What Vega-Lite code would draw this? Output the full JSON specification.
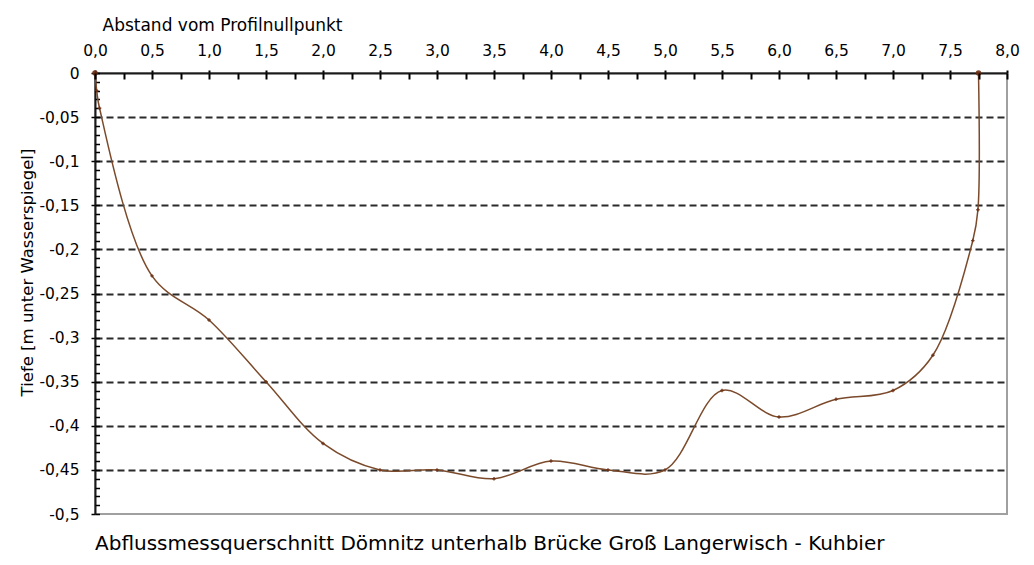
{
  "$schema": "https://vega.github.io/schema/vega-lite/v6.json",
  "width": 912,
  "height": 441,
  "autosize": {"type": "none"},
  "padding": {"left": 95, "top": 73, "right": 27, "bottom": 51},
  "background": "#ffffff",
  "config": {
    "locale": {"number": {"decimal": ",", "thousands": ".", "grouping": [3], "currency": ["", " €"], "minus": "-"}},
    "view": {"stroke": "#a0a0a0", "strokeWidth": 2},
    "font": "DejaVu Sans",
    "axis": {"labelFont": "DejaVu Sans", "titleFont": "DejaVu Sans", "labelColor": "#000000", "titleColor": "#000000", "titleFontWeight": "normal"}
  },
  "title": {
    "text": "Abflussmessquerschnitt Dömnitz unterhalb Brücke Groß Langerwisch - Kuhbier",
    "orient": "bottom",
    "anchor": "start",
    "frame": "group",
    "offset": 11,
    "font": "DejaVu Sans",
    "fontSize": 20,
    "fontWeight": "normal",
    "color": "#000000",
    "baseline": "top"
  },
  "data": {
    "values": [
      {"abstand": 0.0, "tiefe": 0.0},
      {"abstand": 0.015, "tiefe": -0.02},
      {"abstand": 0.04, "tiefe": -0.04},
      {"abstand": 0.5, "tiefe": -0.23},
      {"abstand": 1.0, "tiefe": -0.28},
      {"abstand": 1.5, "tiefe": -0.35},
      {"abstand": 2.0, "tiefe": -0.42},
      {"abstand": 2.5, "tiefe": -0.45},
      {"abstand": 3.0, "tiefe": -0.45},
      {"abstand": 3.5, "tiefe": -0.46},
      {"abstand": 4.0, "tiefe": -0.44},
      {"abstand": 4.5, "tiefe": -0.45},
      {"abstand": 5.0, "tiefe": -0.45},
      {"abstand": 5.5, "tiefe": -0.36},
      {"abstand": 6.0, "tiefe": -0.39},
      {"abstand": 6.5, "tiefe": -0.37},
      {"abstand": 7.0, "tiefe": -0.36},
      {"abstand": 7.35, "tiefe": -0.32},
      {"abstand": 7.7, "tiefe": -0.19},
      {"abstand": 7.745, "tiefe": -0.155},
      {"abstand": 7.75, "tiefe": 0.0}
    ]
  },
  "resolve": {"axis": {"x": "independent", "y": "independent"}},
  "layer": [
    {
      "mark": {"type": "line", "interpolate": "catmull-rom", "color": "#7b4a2b", "strokeWidth": 1.5},
      "encoding": {
        "x": {
          "field": "abstand", "type": "quantitative",
          "scale": {"domain": [0, 8], "nice": false, "zero": false},
          "axis": {
            "orient": "top",
            "values": [0, 0.5, 1, 1.5, 2, 2.5, 3, 3.5, 4, 4.5, 5, 5.5, 6, 6.5, 7, 7.5, 8],
            "format": ".1f",
            "labelFontSize": 15.5,
            "labelBaseline": "alphabetic",
            "labelPadding": 15,
            "labelFlush": false,
            "labelOverlap": false,
            "ticks": true,
            "tickSize": 3,
            "tickWidth": 2,
            "tickColor": "#000000",
            "domainColor": "#1a1a1a",
            "domainWidth": 2,
            "grid": false,
            "title": "Abstand vom Profilnullpunkt",
            "titleFontSize": 17,
            "titleAlign": "left",
            "titleBaseline": "alphabetic",
            "titleX": 7,
            "titleY": -43
          }
        },
        "y": {
          "field": "tiefe", "type": "quantitative",
          "scale": {"domain": [-0.5, 0], "nice": false, "zero": false},
          "axis": {
            "orient": "left",
            "values": [0, -0.05, -0.1, -0.15, -0.2, -0.25, -0.3, -0.35, -0.4, -0.45, -0.5],
            "format": ".2~f",
            "labelFontSize": 15.5,
            "labelPadding": 12,
            "labelBaseline": "middle",
            "labelFlush": false,
            "labelOverlap": false,
            "tickSize": 4,
            "tickWidth": 1.5,
            "tickColor": "#000000",
            "domainColor": "#1a1a1a",
            "domainWidth": 2,
            "grid": true,
            "gridColor": "#2a2a2a",
            "gridWidth": 2,
            "gridDash": [7, 4],
            "gridOpacity": {"condition": {"test": "datum.value == 0 || datum.value == -0.5", "value": 0}, "value": 1},
            "title": "Tiefe [m unter Wasserspiegel]",
            "titleFontSize": 16.5,
            "titleAngle": 270,
            "titleAlign": "center",
            "titleBaseline": "middle",
            "titleX": -68,
            "titleY": 199
          }
        }
      }
    },
    {
      "mark": {"type": "point", "filled": true, "color": "#6b2f12", "opacity": 0.9},
      "encoding": {
        "x": {
          "field": "abstand", "type": "quantitative",
          "scale": {"domain": [0, 8], "nice": false, "zero": false},
          "axis": {
            "orient": "top",
            "values": [0, 0.25, 0.5, 0.75, 1, 1.25, 1.5, 1.75, 2, 2.25, 2.5, 2.75, 3, 3.25, 3.5, 3.75, 4, 4.25, 4.5, 4.75, 5, 5.25, 5.5, 5.75, 6, 6.25, 6.5, 6.75, 7, 7.25, 7.5, 7.75, 8],
            "labels": false,
            "domain": false,
            "grid": false,
            "ticks": true,
            "tickSize": -6,
            "tickWidth": 2,
            "tickColor": "#000000",
            "title": null,
            "zindex": 1
          }
        },
        "y": {
          "field": "tiefe", "type": "quantitative",
          "scale": {"domain": [-0.5, 0], "nice": false, "zero": false},
          "axis": {
            "orient": "left",
            "values": [0, -0.01, -0.02, -0.03, -0.04, -0.05, -0.06, -0.07, -0.08, -0.09, -0.1, -0.11, -0.12, -0.13, -0.14, -0.15, -0.16, -0.17, -0.18, -0.19, -0.2, -0.21, -0.22, -0.23, -0.24, -0.25, -0.26, -0.27, -0.28, -0.29, -0.3, -0.31, -0.32, -0.33, -0.34, -0.35, -0.36, -0.37, -0.38, -0.39, -0.4, -0.41, -0.42, -0.43, -0.44, -0.45, -0.46, -0.47, -0.48, -0.49, -0.5],
            "labels": false,
            "domain": false,
            "grid": false,
            "tickSize": -4.5,
            "tickWidth": 1.5,
            "tickColor": "#000000",
            "title": null
          }
        },
        "shape": {"condition": {"test": "datum.tiefe == 0", "value": "circle"}, "value": "cross"},
        "size": {"condition": {"test": "datum.tiefe == 0", "value": 30}, "value": 12}
      }
    }
  ]
}
